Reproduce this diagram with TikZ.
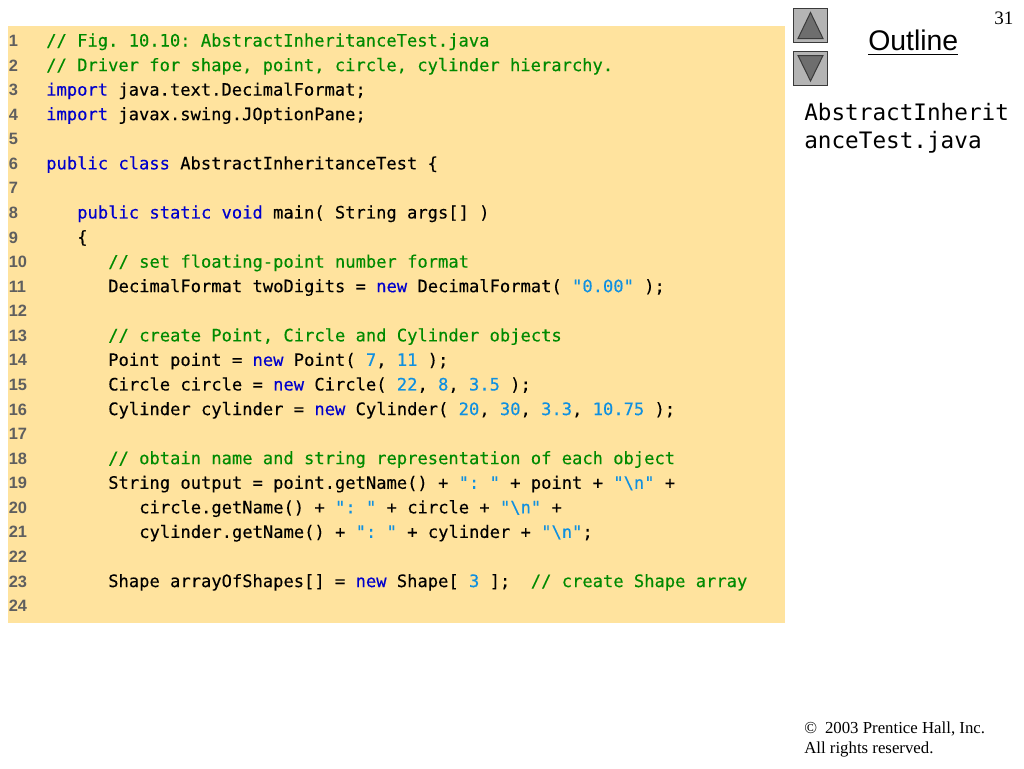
\documentclass[tikz,border=0pt]{standalone}
\usepackage{fontspec}
\setmainfont{Liberation Serif}
\newfontfamily\codefont{DejaVu Sans Mono}[FakeBold=0.25]
\newfontfamily\sidefont{DejaVu Sans Mono}
\newfontfamily\numfont{Liberation Sans Bold}
\newfontfamily\armfont{Liberation Sans}
\definecolor{pagebg}{HTML}{FFFFFF}
\definecolor{panelbg}{HTML}{FFE39E}
\definecolor{cmtc}{HTML}{008A00}
\definecolor{kwc}{HTML}{0000CC}
\definecolor{strc}{HTML}{0F90E0}
\definecolor{numc}{HTML}{5F5F5F}
\definecolor{btnbg}{HTML}{B4B4B4}
\definecolor{btnfg}{HTML}{6E6E6E}
\definecolor{btnln}{HTML}{3A3A3A}
\newcommand{\Cm}[1]{\textcolor{cmtc}{#1}}
\newcommand{\Kw}[1]{\textcolor{kwc}{#1}}
\newcommand{\St}[1]{\textcolor{strc}{#1}}
\tikzset{
  codeline/.style={anchor=base west,inner sep=0pt,font=\fontsize{12.84pt}{14pt}\codefont\frenchspacing,text=black},
  numline/.style={anchor=base west,inner sep=0pt,font=\fontsize{12.3pt}{14pt}\numfont,text=numc},
  sidecode/.style={anchor=base west,inner sep=0pt,font=\fontsize{17pt}{20pt}\sidefont,text=black},
  serifnote/.style={anchor=base west,inner sep=0pt,font=\fontsize{12.6pt}{14pt}\selectfont,text=black},
  btn/.style={draw=btnln,fill=btnbg,line width=0.75pt},
  tri/.style={draw=btnln,fill=btnfg,line width=0.75pt,line join=miter}
}
\begin{document}
\begin{tikzpicture}[x=0.75pt,y=-0.75pt]
\useasboundingbox (0,0) rectangle (1024,768);
\fill[pagebg] (0,0) rectangle (1024,768);
\fill[panelbg] (8,26) rectangle (785,623);
% line numbers
\foreach \i in {1,...,24}{
  \node[numline] (n\i) at (8.5,{46.5+24.57*(\i-1)}) {\i};
}
\def\yy#1{{46.5+24.57*(#1-1)}}
\node[codeline] (l1) at (46,\yy{1}) {\Cm{// Fig. 10.10: AbstractInheritanceTest.java}};
\node[codeline] (l2) at (46,\yy{2}) {\Cm{// Driver for shape, point, circle, cylinder hierarchy.}};
\node[codeline] (l3) at (46,\yy{3}) {\Kw{import} java.text.DecimalFormat;};
\node[codeline] (l4) at (46,\yy{4}) {\Kw{import} javax.swing.JOptionPane;};
\node[codeline] (l6) at (46,\yy{6}) {\Kw{public} \Kw{class} AbstractInheritanceTest \{};
\node[codeline] (l8) at (77,\yy{8}) {\Kw{public} \Kw{static} \Kw{void} main( String args[] )};
\node[codeline] (l9) at (77,\yy{9}) {\{};
\node[codeline] (l10) at (108,\yy{10}) {\Cm{// set floating-point number format}};
\node[codeline] (l11) at (108,\yy{11}) {DecimalFormat twoDigits = \Kw{new} DecimalFormat( \St{"0.00"} );};
\node[codeline] (l13) at (108,\yy{13}) {\Cm{// create Point, Circle and Cylinder objects}};
\node[codeline] (l14) at (108,\yy{14}) {Point point = \Kw{new} Point( \St{7}, \St{11} );};
\node[codeline] (l15) at (108,\yy{15}) {Circle circle = \Kw{new} Circle( \St{22}, \St{8}, \St{3.5} );};
\node[codeline] (l16) at (108,\yy{16}) {Cylinder cylinder = \Kw{new} Cylinder( \St{20}, \St{30}, \St{3.3}, \St{10.75} );};
\node[codeline] (l18) at (108,\yy{18}) {\Cm{// obtain name and string representation of each object}};
\node[codeline] (l19) at (108,\yy{19}) {String output = point.getName() + \St{": "} + point + \St{"\textbackslash n"} +};
\node[codeline] (l20) at (139,\yy{20}) {circle.getName() + \St{": "} + circle + \St{"\textbackslash n"} +};
\node[codeline] (l21) at (139,\yy{21}) {cylinder.getName() + \St{": "} + cylinder + \St{"\textbackslash n"};};
\node[codeline] (l23) at (108,\yy{23}) {Shape arrayOfShapes[] = \Kw{new} Shape[ \St{3} ];\ \ \Cm{// create Shape array}};
% side
\draw[btn] (793.5,8.5) rectangle (827.5,42.5);
\draw[tri] (810.5,12.5) -- (823,38.5) -- (798,38.5) -- cycle;
\draw[btn] (793.5,51.5) rectangle (827.5,85.5);
\draw[tri] (810.5,81) -- (823,55.5) -- (798,55.5) -- cycle;
\node[anchor=base west,inner sep=0pt,font=\fontsize{21.3pt}{24pt}\armfont] (outl) at (868,50) {Outline};
\draw[line width=1.2pt] (868,54.5) -- (958,54.5);
\node[sidecode] (s1) at (804,120) {AbstractInherit};
\node[sidecode] (s2) at (804,148) {anceTest.java};
\node[anchor=base west,inner sep=0pt,font=\fontsize{14.25pt}{16pt}\selectfont] (pg) at (994,24) {31};
\node[serifnote] (c1) at (804,733) {\copyright\hspace{6pt}2003 Prentice Hall, Inc.};
\node[serifnote] (c2) at (804,753.5) {All rights reserved.};
\end{tikzpicture}
\end{document}
